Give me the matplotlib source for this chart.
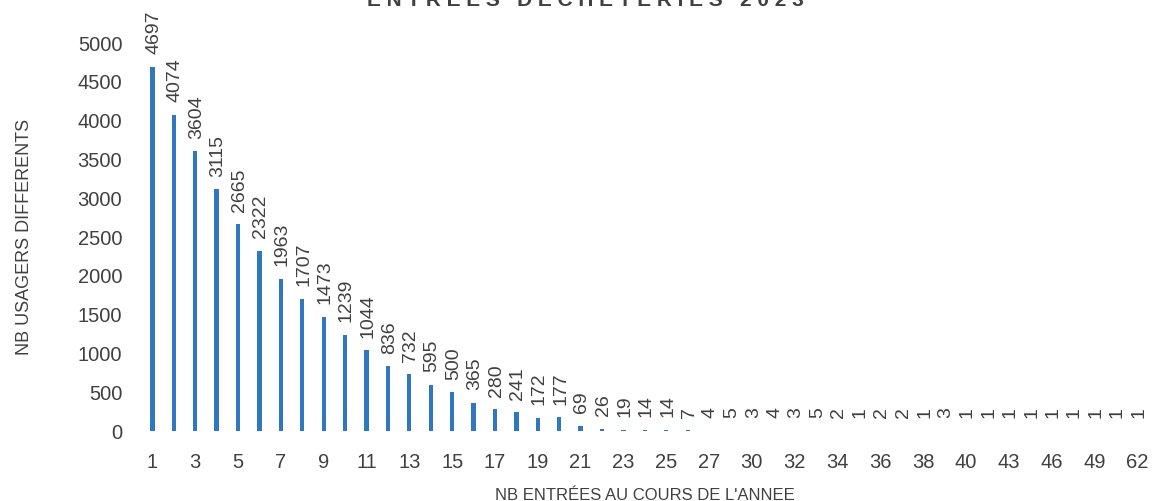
import matplotlib
matplotlib.use("Agg")
from matplotlib import pyplot as plt
import numpy as np

# number of visits per year (categories shown on x axis)
nb_entrees = ["1", "2", "3", "4", "5", "6", "7", "8", "9", "10",
              "11", "12", "13", "14", "15", "16", "17", "18", "19", "20",
              "21", "22", "23", "24", "25", "26", "27", "28", "30", "31",
              "32", "33", "34", "35", "36", "37", "38", "39", "40", "42",
              "43", "44", "46", "47", "49", "51", "62"]

# number of distinct users for each category
nb_usagers = [4697, 4074, 3604, 3115, 2665, 2322, 1963, 1707, 1473, 1239,
              1044, 836, 732, 595, 500, 365, 280, 241, 172, 177,
              69, 26, 19, 14, 14, 7, 4, 5, 3, 4,
              3, 5, 2, 1, 2, 2, 1, 3, 1, 1,
              1, 1, 1, 1, 1, 1, 1]

y_ticks = [0, 500, 1000, 1500, 2000, 2500, 3000, 3500, 4000, 4500, 5000]

plt.rcParams["font.family"] = ["Liberation Sans", "DejaVu Sans"]

fig = plt.figure(figsize=(11.52, 5.01), dpi=100)
ax = fig.add_axes([0.123, 0.1397, 0.8735, 0.7743])

x = np.arange(len(nb_entrees))
bars = ax.bar(x, nb_usagers, width=0.2, color="#2E78C2")

# value labels above each bar, rotated
for xi, val in zip(x, nb_usagers):
    ax.annotate(str(val), (xi, val), xytext=(1, 9), textcoords="offset points",
                rotation=90, ha="center", va="bottom", fontsize=14,
                color="#404040")

ax.set_xlim(-0.5, len(nb_entrees) - 0.5)
ax.set_ylim(0, 5000)
ax.set_yticks(y_ticks)
ax.set_xticks(x[::2])
ax.set_xticklabels(nb_entrees[::2])
ax.tick_params(axis="both", length=0, labelsize=14.5, colors="#404040")
ax.tick_params(axis="x", pad=16)
ax.tick_params(axis="y", pad=14)

for side in ["top", "right", "left", "bottom"]:
    ax.spines[side].set_visible(False)

ax.set_ylabel("NB USAGERS DIFFERENTS", fontsize=13, color="#404040", labelpad=32)
ax.set_xlabel("NB ENTRÉES AU COURS DE L'ANNEE", fontsize=12, color="#404040", labelpad=11)

# title, mostly cropped off at the top in the original
fig.text(0.508, 1 - 6 / 501, "E N T R E E S   D E C H E T E R I E S   2 0 2 3",
         ha="center", va="baseline", fontsize=15, fontweight="bold", color="#404040")

plt.savefig("out.png", dpi=100)
